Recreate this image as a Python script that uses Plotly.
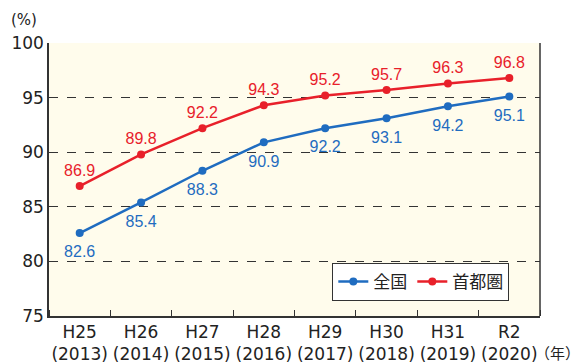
import plotly.graph_objects as go

categories = ["H25<br>(2013)", "H26<br>(2014)", "H27<br>(2015)", "H28<br>(2016)",
              "H29<br>(2017)", "H30<br>(2018)", "H31<br>(2019)", "R2<br>(2020)"]
zenkoku = [82.6, 85.4, 88.3, 90.9, 92.2, 93.1, 94.2, 95.1]
shutoken = [86.9, 89.8, 92.2, 94.3, 95.2, 95.7, 96.3, 96.8]
y_ticks = [75, 80, 85, 90, 95, 100]

BLUE = "#1f6cc0"
RED = "#e8202a"
FONT = "Liberation Sans, Arial, sans-serif"
AXFONT = "DejaVu Sans, sans-serif"
JFONT = "Noto Sans CJK JP, sans-serif"

xs = list(range(len(categories)))

fig = go.Figure()
fig.add_trace(go.Scatter(
    x=xs, y=zenkoku, name="全国", mode="lines+markers",
    line=dict(color=BLUE, width=2.5), marker=dict(color=BLUE, size=8),
))
fig.add_trace(go.Scatter(
    x=xs, y=shutoken, name="首都圏", mode="lines+markers",
    line=dict(color=RED, width=2.5), marker=dict(color=RED, size=8),
))
# value labels
fig.add_trace(go.Scatter(
    x=xs, y=zenkoku, mode="markers+text", showlegend=False, hoverinfo="skip",
    marker=dict(color="rgba(0,0,0,0)", size=18),
    text=[f"{v:.1f}" for v in zenkoku], textposition="bottom center",
    textfont=dict(color=BLUE, size=16, family=FONT), cliponaxis=False,
))
fig.add_trace(go.Scatter(
    x=xs, y=shutoken, mode="markers+text", showlegend=False, hoverinfo="skip",
    marker=dict(color="rgba(0,0,0,0)", size=8),
    text=[f"{v:.1f}" for v in shutoken], textposition="top center",
    textfont=dict(color=RED, size=16, family=FONT), cliponaxis=False,
))

fig.update_layout(
    width=577, height=355,
    margin=dict(l=41, r=45, t=35, b=47),
    paper_bgcolor="white",
    plot_bgcolor="#fffcec",
    font=dict(family=FONT, color="#222", size=15),
    showlegend=True,
    legend=dict(
        x=0.577, y=0.055, xanchor="left", yanchor="bottom",
        orientation="h", bgcolor="white", bordercolor="#333", borderwidth=1,
        font=dict(family=JFONT, size=17, color="#222"),
        itemwidth=30,
    ),
    xaxis=dict(
        range=[-0.5, 7.5], tickvals=xs, ticktext=categories,
        ticks="", showgrid=False, zeroline=False, automargin=False,
        showline=True, linecolor="#333", linewidth=1.5, mirror=False,
        tickfont=dict(size=17, family=AXFONT, color="#222"),
        minor=dict(tick0=0.5, dtick=1, ticks="inside", ticklen=6,
                   tickcolor="#333", showgrid=False),
    ),
    yaxis=dict(
        range=[75, 100], tickvals=y_ticks, ticks="", automargin=False,
        showgrid=True, gridcolor="#333", gridwidth=1, griddash="dash",
        zeroline=False, showline=True, linecolor="#333", linewidth=1.5,
        tickfont=dict(size=17, family=AXFONT, color="#222"),
    ),
    shapes=[dict(type="line", xref="paper", yref="paper", x0=1, x1=1, y0=0, y1=1,
                 line=dict(color="#333", width=1.5))],
    annotations=[
        dict(text="(%)", xref="paper", yref="paper", x=-0.081, y=1.084,
             xanchor="left", yanchor="middle", showarrow=False,
             font=dict(size=15, family=AXFONT, color="#222")),
        dict(text="（年）", xref="paper", yref="paper", x=0.986, y=0,
             xanchor="left", yanchor="middle", yshift=-36, showarrow=False,
             font=dict(size=15, family=JFONT, color="#222")),
    ],
)

fig.write_html("out.html")
